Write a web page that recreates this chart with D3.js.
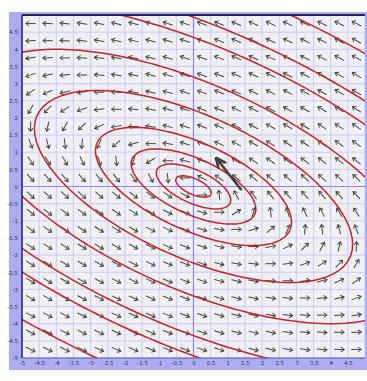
<!DOCTYPE html>
<html><head><meta charset="utf-8">
<script src="https://cdn.jsdelivr.net/npm/d3@7"></script>
<style>html,body{margin:0;padding:0;background:#fff;}svg{display:block;}</style>
</head><body>
<svg id="c" width="367" height="381"></svg>
<script>
// ---- data ----
const xDomain = [-5, 5];
const yDomain = [-5, 5];
const gridStep = 0.5;
const xTickValues = [-5,-4.5,-4,-3.5,-3,-2.5,-2,-1.5,-1,-0.5,0,0.5,1,1.5,2,2.5,3,3.5,4,4.5];
const yTickValues = [4.5,4,3.5,3,2.5,2,1.5,1,0.5,0,-0.5,-1,-1.5,-2,-2.5,-3,-3.5,-4,-4.5,-5];
const arrowX = [-4.75,-4.25,-3.75,-3.25,-2.75,-2.25,-1.75,-1.25,-0.75,-0.25,0.25,0.75,1.25,1.75,2.25,2.75,3.25,3.75,4.25,4.75];
const arrowY = [4.75,4.25,3.75,3.25,2.75,2.25,1.75,1.25,0.75,0.25,-0.25,-0.75,-1.25,-1.75,-2.25,-2.75,-3.25,-3.75,-4.25,-4.75];
// arrow directions in degrees (counter-clockwise from +x), one row per arrowY
const arrowAngles = [
  [180,177,174,171,169,167,165,164,162,161,159,158,157,156,155,155,154,153,153,152],
  [184,180,176,173,171,168,166,164,162,161,159,158,157,156,155,154,153,153,152,151],
  [190,185,180,176,173,170,167,165,163,161,159,158,157,156,155,154,153,152,151,151],
  [200,192,186,180,175,172,168,165,163,161,159,158,156,155,154,153,152,151,150,150],
  [215,204,195,187,180,175,170,167,164,161,159,157,156,154,153,152,151,150,149,149],
  [240,226,212,199,188,180,174,169,165,161,159,157,155,153,152,151,150,149,148,147],
  [269,257,242,224,206,191,180,172,166,162,158,156,154,152,151,149,148,147,147,146],
  [291,285,277,265,245,220,197,180,170,163,158,155,152,150,148,147,146,145,144,144],
  [304,302,299,295,289,277,253,212,180,165,157,152,149,147,145,144,143,142,142,141],
  [312,312,311,311,310,308,305,299,277,180,152,145,142,141,140,139,138,138,138,137],
  [317,318,318,318,319,320,321,322,325,332,0,97,119,125,128,130,131,131,132,132],
  [321,322,322,323,324,325,327,329,332,337,345,0,32,73,97,109,115,119,122,124],
  [324,324,325,326,327,328,330,332,335,338,343,350,0,17,40,65,85,97,105,111],
  [326,327,327,328,329,331,332,334,336,338,342,346,352,0,11,26,44,62,77,89],
  [327,328,329,330,331,332,333,335,337,339,341,345,349,354,0,8,19,32,46,60],
  [329,329,330,331,332,333,334,336,337,339,341,344,347,350,355,0,7,15,24,35],
  [330,330,331,332,333,334,335,336,338,339,341,343,345,348,352,355,0,6,12,20],
  [331,331,332,333,334,335,336,337,338,339,341,343,345,347,350,353,356,0,5,10],
  [331,332,333,333,334,335,336,337,338,339,341,342,344,346,348,351,353,356,0,4],
  [332,333,333,334,335,335,336,337,338,339,341,342,344,345,347,349,351,354,357,0]
];
// contour ellipses: level values of q(x,y) = a*x^2 + 2*b*x*y + c*y^2
const formA = 1, formB = 1, formC = 2.75;
const contourLevels = [0.17, 0.75, 2.1, 5.2, 13.7, 28, 52, 67, 105];
// highlighted trajectory arrow
const trajX = [1.38, 0.66];
const trajY = [-0.08, 0.83];

// ---- drawing ----
const svg = d3.select("#c");
const pL = 22, pR = 365, pT = 15, pB = 358;
const x = d3.scaleLinear().domain(xDomain).range([pL, pR]);
const y = d3.scaleLinear().domain(yDomain).range([pB, pT]);

svg.append("rect").attr("x", 9).attr("y", 12).attr("width", 367 - 9).attr("height", 370 - 12).attr("fill", "#acacf5");
svg.append("rect").attr("x", pL).attr("y", pT).attr("width", pR - pL).attr("height", pB - pT).attr("fill", "#efeff4");

svg.append("defs").append("clipPath").attr("id", "clip")
  .append("rect").attr("x", pL).attr("y", pT).attr("width", pR - pL).attr("height", pB - pT);

const plot = svg.append("g").attr("clip-path", "url(#clip)");

const gridVals = d3.range(xDomain[0], xDomain[1] + 1e-9, gridStep);
plot.append("g").selectAll("line").data(gridVals).join("line")
  .attr("x1", d => x(d)).attr("x2", d => x(d)).attr("y1", pT).attr("y2", pB)
  .attr("stroke", "#cbcbee").attr("stroke-width", 1);
plot.append("g").selectAll("line").data(gridVals).join("line")
  .attr("y1", d => y(d)).attr("y2", d => y(d)).attr("x1", pL).attr("x2", pR)
  .attr("stroke", "#cbcbee").attr("stroke-width", 1);
plot.append("line").attr("x1", x(0)).attr("x2", x(0)).attr("y1", pT).attr("y2", pB).attr("stroke", "#8a8ae6").attr("stroke-width", 1.2);
plot.append("line").attr("y1", y(0)).attr("y2", y(0)).attr("x1", pL).attr("x2", pR).attr("stroke", "#8a8ae6").attr("stroke-width", 1.2);

const arrowLen = 9.5, head = 2.8;
const arrows = [];
arrowY.forEach((yy, i) => arrowX.forEach((xx, j) => arrows.push({x: xx, y: yy, a: arrowAngles[i][j]})));
const ag = plot.append("g").attr("stroke", "#444").attr("stroke-width", 1).attr("fill", "none").attr("stroke-linecap", "round");
ag.selectAll("g").data(arrows).join("g")
  .attr("transform", d => `translate(${x(d.x)},${y(d.y)}) rotate(${-d.a})`)
  .each(function() {
    const g = d3.select(this);
    g.append("line").attr("x1", -arrowLen / 2).attr("x2", arrowLen / 2).attr("y1", 0).attr("y2", 0);
    g.append("path").attr("d", `M${arrowLen/2 - head},${-head*0.75} L${arrowLen/2},0 L${arrowLen/2 - head},${head*0.75}`);
  });

const angles = d3.range(0, 361, 2);
const line = d3.line().x(p => x(p[0])).y(p => y(p[1])).curve(d3.curveLinearClosed);
plot.append("g").selectAll("path").data(contourLevels).join("path")
  .attr("d", L => line(angles.map(t => {
    const c = Math.cos(t * Math.PI / 180), s = Math.sin(t * Math.PI / 180);
    const r = Math.sqrt(L / (formA * c * c + 2 * formB * c * s + formC * s * s));
    return [r * c, r * s];
  })))
  .attr("fill", "none").attr("stroke", "#c0262c").attr("stroke-width", 1.5);

const tx0 = x(trajX[0]), ty0 = y(trajY[0]), tx1 = x(trajX[1]), ty1 = y(trajY[1]);
const ang = Math.atan2(ty1 - ty0, tx1 - tx0);
const hl = 10, hw = 0.45;
plot.append("path")
  .attr("d", `M${tx0},${ty0} L${tx1},${ty1} M${tx1 - hl*Math.cos(ang - hw)},${ty1 - hl*Math.sin(ang - hw)} L${tx1},${ty1} L${tx1 - hl*Math.cos(ang + hw)},${ty1 - hl*Math.sin(ang + hw)}`)
  .attr("fill", "none").attr("stroke", "#404040").attr("stroke-width", 2.6).attr("stroke-linecap", "round").attr("stroke-linejoin", "round");

svg.append("line").attr("x1", pL).attr("x2", pR).attr("y1", pT).attr("y2", pT).attr("stroke", "#23234d").attr("stroke-width", 2);
svg.append("line").attr("x1", pL).attr("x2", pL).attr("y1", pT).attr("y2", pB).attr("stroke", "#23234d").attr("stroke-width", 1.5);
svg.append("line").attr("x1", pL).attr("x2", pR).attr("y1", pB).attr("y2", pB).attr("stroke", "#5a5ab0").attr("stroke-width", 1);

const fmt = d => String(d);
const xAxis = svg.append("g").attr("transform", `translate(0,${pB + 1})`)
  .call(d3.axisBottom(x).tickValues(xTickValues).tickFormat(fmt).tickSize(0).tickPadding(2));
const yAxis = svg.append("g").attr("transform", `translate(${pL - 2},0)`)
  .call(d3.axisLeft(y).tickValues(yTickValues).tickFormat(fmt).tickSize(0).tickPadding(2));
[xAxis, yAxis].forEach(a => {
  a.select(".domain").remove();
  a.selectAll("text").attr("font-family", "DejaVu Sans, sans-serif").attr("font-size", 5.5).attr("fill", "#333");
});
</script>
</body></html>
